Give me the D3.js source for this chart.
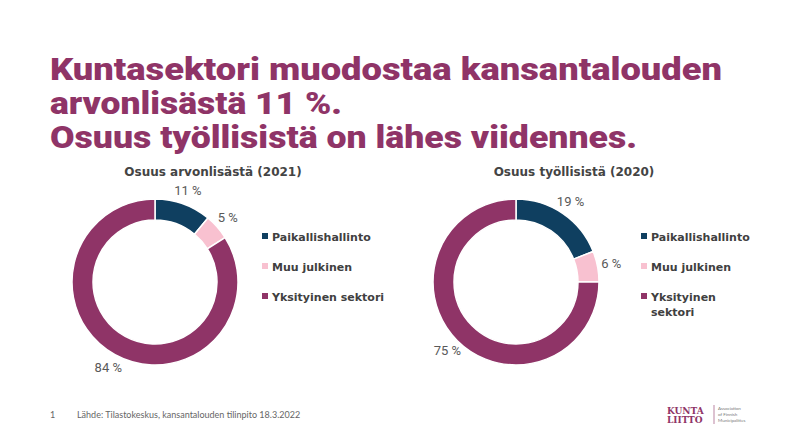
<!DOCTYPE html>
<html><head><meta charset="utf-8">
<script src="https://cdn.jsdelivr.net/npm/d3@7"></script>
<style>body{margin:0;background:#fff;font-family:Lato,"Open Sans",sans-serif}</style>
</head><body><svg id="c" width="790" height="444"></svg>
<script>
// Data
let categories = ["Paikallishallinto", "Muu julkinen", "Yksityinen sektori"];
let arvonlisaValues = [11, 5, 84];
let tyollisetValues = [19, 6, 75];
let colors = ["#0f3f60", "#f8c1d0", "#8f3467"];

const svg = d3.select("#c");
const purple = "#8f3467";

// Title
const titleLines = ["Kuntasektori muodostaa kansantalouden", "arvonlisästä 11 %.", "Osuus työllisistä on lähes viidennes."];
const titleWidths = [672, 292, 587];
svg.selectAll(".title").data(titleLines).join("text")
  .attr("x", 50).attr("y", (d, i) => 80 + i * 34)
  .attr("fill", purple).attr("font-size", 31).attr("font-weight", 900)
  .attr("font-family", "Roboto").attr("textLength", (d, i) => titleWidths[i])
  .attr("lengthAdjust", "spacingAndGlyphs").text(d => d);

let color = d3.scaleOrdinal().domain(categories).range(colors);
let pie = d3.pie().sort(null).value(d => d.value);
let arc = d3.arc().innerRadius(62).outerRadius(83);
const sansB = "DejaVu Sans";

function donut(cx, title, values, legendX, legendLabels) {
  let data = categories.map((c, i) => ({ cat: c, value: values[i] }));
  svg.append("text").attr("x", cx + 58).attr("y", 176).attr("text-anchor", "middle")
    .attr("font-family", sansB).attr("font-size", 12).attr("font-weight", 700).attr("fill", "#444").text(title);
  let g = svg.append("g").attr("transform", `translate(${cx},282)`);
  let arcs = pie(data);
  g.selectAll("path").data(arcs).join("path").attr("d", arc)
    .attr("fill", d => color(d.data.cat)).attr("stroke", "#fff").attr("stroke-width", 1.5);
  let lab = d3.arc().innerRadius(97).outerRadius(97);
  g.selectAll(".lbl").data(arcs).join("text")
    .attr("transform", d => {
      let [x, y] = lab.centroid(d);
      return `translate(${x},${y})`;
    })
    .attr("text-anchor", "middle").attr("dy", "0.35em").attr("font-family", "Roboto")
    .attr("font-size", 13).attr("fill", "#595959").text(d => d.data.value + " %");
  // Legend
  let lg = svg.append("g").selectAll("g").data(legendLabels).join("g")
    .attr("transform", (d, i) => `translate(${legendX},${237 + i * 30})`);
  lg.append("rect").attr("x", 0).attr("y", -4).attr("width", 6).attr("height", 6)
    .attr("fill", (d, i) => colors[i]);
  lg.append("text").attr("x", 10).attr("font-family", sansB).attr("font-size", 11).attr("font-weight", 700).attr("fill", "#404040")
    .selectAll("tspan").data(d => d).join("tspan").attr("x", 10).attr("dy", (d, i) => i ? 15 : 4).text(d => d);
}

donut(155, "Osuus arvonlisästä (2021)", arvonlisaValues, 262, [["Paikallishallinto"], ["Muu julkinen"], ["Yksityinen sektori"]]);
donut(516, "Osuus työllisistä (2020)", tyollisetValues, 641, [["Paikallishallinto"], ["Muu julkinen"], ["Yksityinen", "sektori"]]);

// Footer
svg.append("text").attr("x", 50).attr("y", 418).attr("font-size", 9).attr("fill", "#666").text("1");
svg.append("text").attr("x", 77).attr("y", 418).attr("font-size", 9).attr("fill", "#666")
  .text("Lähde: Tilastokeskus, kansantalouden tilinpito 18.3.2022");
svg.append("text").attr("x", 667).attr("y", 414).attr("font-size", 9).attr("font-weight", 700).attr("font-family", "DejaVu Serif").attr("fill", purple).text("KUNTA");
svg.append("text").attr("x", 667).attr("y", 423).attr("font-size", 9).attr("font-weight", 700).attr("font-family", "DejaVu Serif").attr("fill", purple).text("LIITTO");
svg.append("line").attr("x1", 714).attr("x2", 714).attr("y1", 405).attr("y2", 424).attr("stroke", purple).attr("stroke-width", 0.6);
["Association", "of Finnish", "Municipalities"].forEach((t, i) =>
  svg.append("text").attr("x", 718).attr("y", 410 + i * 6).attr("font-size", 4.5).attr("fill", "#777").text(t));
</script></body></html>
